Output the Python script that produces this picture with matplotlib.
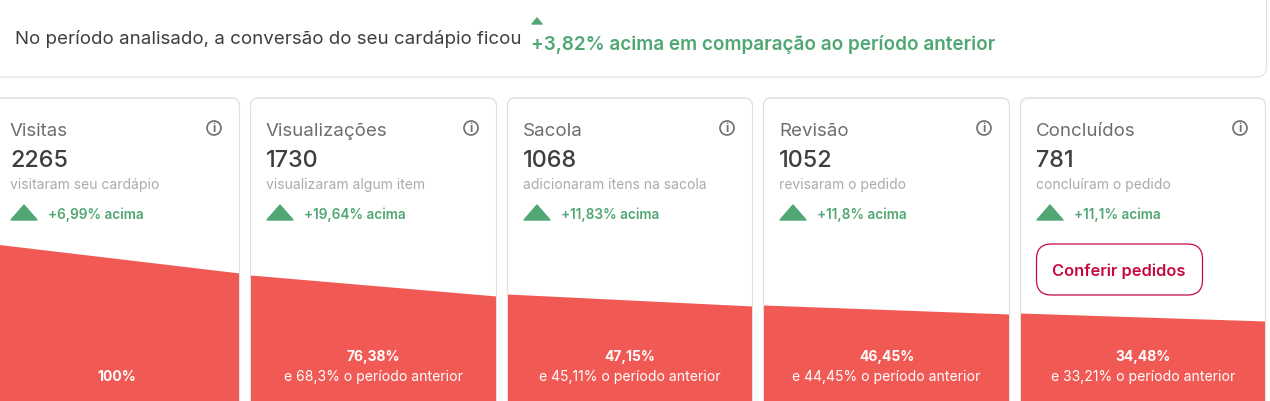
import matplotlib
matplotlib.use("Agg")
import matplotlib.pyplot as plt
from matplotlib.patches import FancyBboxPatch, Polygon, Circle

plt.rcParams["font.family"] = ["Inter", "Roboto", "DejaVu Sans"]

# Funnel data, one entry per card
stages = ["Visitas", "Visualizações", "Sacola", "Revisão", "Concluídos"]
counts = ["2265", "1730", "1068", "1052", "781"]
captions = ["visitaram seu cardápio", "visualizaram algum item", "adicionaram itens na sacola",
            "revisaram o pedido", "concluíram o pedido"]
changes = ["+6,99% acima", "+19,64% acima", "+11,83% acima", "+11,8% acima", "+11,1% acima"]
shares = ["100%", "76,38%", "47,15%", "46,45%", "34,48%"]
previous = ["", "e 68,3% o período anterior", "e 45,11% o período anterior",
            "e 44,45% o período anterior", "e 33,21% o período anterior"]
# height of the red area at the left and right edge of each card
area_left = [158, 126, 107, 96, 88]
area_right = [128, 105, 95, 87, 80]

headline = "No período analisado, a conversão do seu cardápio ficou"
headline_change = "+3,82% acima em comparação ao período anterior"
button_label = "Conferir pedidos"

card_left = [-13.5, 250.5, 507.5, 763.5, 1020.5]
card_right = [239.5, 496.5, 752.5, 1009.5, 1265.5]

GREEN = "#50A773"
RED = "#F15A54"
BORDER = "#E0E0E0"

fig = plt.figure(figsize=(12.7, 4.02), dpi=100)
ax = fig.add_axes([0, 0, 1, 1])
ax.set_xlim(0, 1270)
ax.set_ylim(402, 0)
ax.axis("off")


def rounded(x0, y0, x1, y1, radius, **kw):
    box = FancyBboxPatch((x0 + radius, y0 + radius), x1 - x0 - 2 * radius, y1 - y0 - 2 * radius,
                         boxstyle=f"round,pad={radius},rounding_size={radius}", **kw)
    ax.add_patch(box)
    return box


def label(x, y, text, px, color, weight="normal", ha="left"):
    return ax.text(x, y, text, fontsize=px * 0.72, color=color, fontweight=weight, ha=ha,
                   va="center_baseline", zorder=4)


def arrow(x0, x1, y0, y1):
    mid = (x0 + x1) / 2
    ax.add_patch(Polygon([(x0, y1), (mid, y0), (x1, y1)], closed=True, facecolor=GREEN,
                         edgecolor=GREEN, linewidth=1, joinstyle="round"))


# Top banner
rounded(-20, -30, 1266.5, 78, 10, facecolor="white", edgecolor=BORDER, linewidth=0.75)
label(15, 36.5, headline, 18.7, "#3F3E3E")
arrow(532, 542, 19, 25)
label(531, 43, headline_change, 18.9, GREEN, weight="semibold")

# Cards
for i, stage in enumerate(stages):
    x0, x1 = card_left[i], card_right[i]
    mid = (x0 + x1) / 2 if i else 117
    tx = x0 + 15.5 if i else 10

    card = rounded(x0, 99, x1, 430, 8, facecolor="white", edgecolor=BORDER, linewidth=0.75, zorder=1)
    red = ax.fill_between([x0, x1], [402 - area_left[i], 402 - area_right[i]], 440,
                          color=RED, linewidth=0, zorder=2)
    red.set_clip_path(card.get_path(), card.get_transform())
    rounded(x0, 99, x1, 430, 8, facecolor="none", edgecolor=BORDER, linewidth=0.75, zorder=3)

    label(tx, 129.5, stage, 18.7, "#6E6E6E")
    label(tx, 159, counts[i], 23.4, "#3F3E3E", weight="medium")
    label(tx, 184, captions[i], 13.9, "#ABABAB")

    arrow(tx + 1, tx + 27, 206, 221)
    label(tx + 38, 213.5, changes[i], 13.6, GREEN, weight="semibold")

    # info icon
    ix = x1 - 25.5
    ax.add_patch(Circle((ix, 129), 7, facecolor="none", edgecolor="#6E6E6E", linewidth=1.2, zorder=3))
    ax.text(ix, 129, "i", fontsize=8.5, color="#6E6E6E", ha="center", va="center", fontweight="bold", zorder=3)

    ax.text(mid, 356 if i else 376, shares[i], fontsize=10, color="white", fontweight="bold",
            ha="center", va="center_baseline", zorder=4)
    if previous[i]:
        ax.text(mid, 376, previous[i], fontsize=10.05, color="white", ha="center", va="center_baseline", zorder=4)

# Button on the last card
rounded(1036.5, 245, 1202.5, 296, 15, facecolor="white", edgecolor="#C5093F", linewidth=0.9, zorder=3)
ax.text(1119, 270, button_label, fontsize=11.8, color="#C5093F", fontweight="semibold",
        ha="center", va="center_baseline", zorder=4)

fig.savefig("out.png", dpi=100)
